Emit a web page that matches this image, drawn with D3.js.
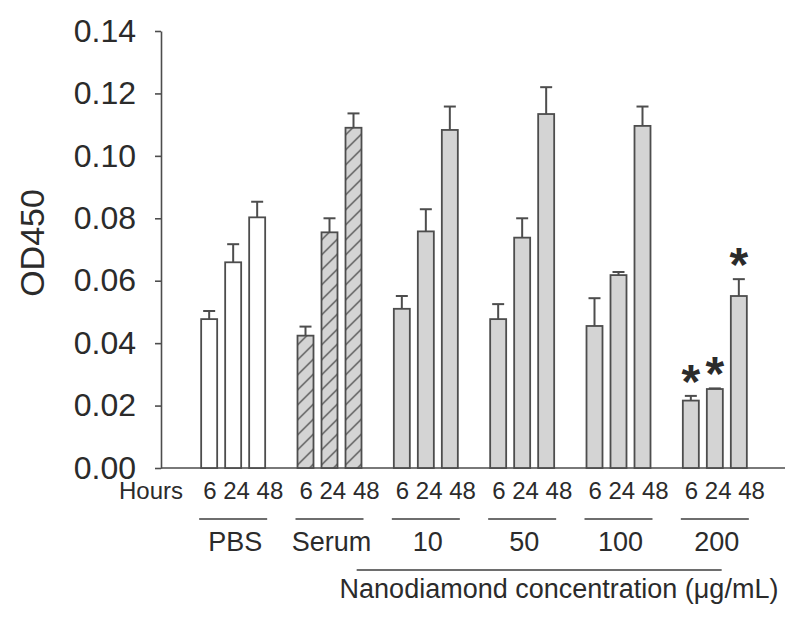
<!DOCTYPE html>
<html>
<head>
<meta charset="utf-8">
<script src="https://cdn.jsdelivr.net/npm/d3@7"></script>
<style>
  body { margin: 0; background: #fff; }
  svg text { font-family: "Liberation Sans", Arial, sans-serif; fill: #2b2b2b; }
</style>
</head>
<body>
<div id="chart"></div>
<script>
(function(d3) {

  // Data.
  var groups = ['PBS', 'Serum', '10', '50', '100', '200'];
  var hours = ['6', '24', '48'];
  var means = [
    [0.0477, 0.0659, 0.0803],
    [0.0424, 0.0755, 0.1090],
    [0.0510, 0.0758, 0.1083],
    [0.0477, 0.0738, 0.1134],
    [0.0455, 0.0618, 0.1096],
    [0.0216, 0.0253, 0.0551]
  ];
  var errs = [
    [0.0026, 0.0058, 0.0050],
    [0.0029, 0.0045, 0.0046],
    [0.0041, 0.0071, 0.0075],
    [0.0048, 0.0062, 0.0086],
    [0.0089, 0.0010, 0.0062],
    [0.0015, 0.0002, 0.0054]
  ];
  var significant = [
    [0, 0, 0], [0, 0, 0], [0, 0, 0], [0, 0, 0], [0, 0, 0], [1, 1, 1]
  ];
  var yTicks = [0, 0.02, 0.04, 0.06, 0.08, 0.10, 0.12, 0.14];
  var nanoGroups = ['10', '50', '100', '200'];

  var width = 800, height = 618;
  var ink = '#4d4d4d';

  var svg = d3.select('#chart').append('svg')
    .attr('width', width)
    .attr('height', height);

  // Hatch for the serum bars.
  svg.append('defs').append('pattern')
    .attr('id', 'hatch')
    .attr('patternUnits', 'userSpaceOnUse')
    .attr('width', 15)
    .attr('height', 15)
    .call(function(p) {
      p.append('rect').attr('width', 15).attr('height', 15).attr('fill', '#d4d4d4');
      p.append('path')
        .attr('d', 'M0,15 L15,0 M-4,4 L4,-4 M11,19 L19,11')
        .attr('stroke', '#505050')
        .attr('stroke-width', 1.3);
    });

  var y = d3.scaleLinear().domain([0, 0.14]).range([468, 31]);

  var x0 = d3.scaleBand().domain(groups).range([185, 763]);
  var x1 = d3.scaleBand().domain(hours)
    .range([x0.bandwidth() / 2 - 36, x0.bandwidth() / 2 + 36])
    .paddingInner(1 / 3)
    .paddingOuter(1 / 6);

  var axisX = 161;

  // Y axis.
  var yAxis = svg.append('g')
    .attr('transform', 'translate(' + axisX + ',0)')
    .call(d3.axisLeft(y).tickValues(yTicks).tickFormat(d3.format('.2f')).tickSize(6).tickPadding(19).tickSizeOuter(0));
  yAxis.select('.domain').attr('stroke', ink).attr('stroke-width', 1.6);
  yAxis.selectAll('.tick line').attr('stroke', ink).attr('stroke-width', 1.6);
  yAxis.selectAll('.tick text')
    .attr('font-size', 32)
    .style('font-family', '"Liberation Sans", Arial, sans-serif')
    .attr('fill', '#2b2b2b');

  svg.append('text')
    .attr('transform', 'translate(44,243) rotate(-90)')
    .attr('text-anchor', 'middle')
    .attr('font-size', 34)
    .text('OD450');

  // X baseline.
  svg.append('line')
    .attr('x1', axisX).attr('x2', 785)
    .attr('y1', y(0)).attr('y2', y(0))
    .attr('stroke', ink).attr('stroke-width', 1.6);

  // Bars.
  var rows = [];
  groups.forEach(function(g, gi) {
    hours.forEach(function(h, hi) {
      rows.push({ group: g, gi: gi, hour: h, value: means[gi][hi], err: errs[gi][hi], sig: significant[gi][hi] });
    });
  });

  var fillFor = function(d) {
    if (d.group === 'PBS') return '#ffffff';
    if (d.group === 'Serum') return 'url(#hatch)';
    return '#d4d4d4';
  };

  var bar = svg.append('g').selectAll('g')
    .data(rows)
    .join('g')
    .attr('transform', function(d) { return 'translate(' + (x0(d.group) + x1(d.hour)) + ',0)'; });

  var bw = x1.bandwidth();

  // Error bars (drawn first so the bar outline sits on top).
  bar.append('line')
    .attr('x1', bw / 2).attr('x2', bw / 2)
    .attr('y1', function(d) { return y(d.value); })
    .attr('y2', function(d) { return y(d.value + d.err); })
    .attr('stroke', ink).attr('stroke-width', 2);
  bar.append('line')
    .attr('x1', bw / 2 - 6).attr('x2', bw / 2 + 6)
    .attr('y1', function(d) { return y(d.value + d.err); })
    .attr('y2', function(d) { return y(d.value + d.err); })
    .attr('stroke', ink).attr('stroke-width', 2);

  bar.append('rect')
    .attr('x', 0)
    .attr('width', bw)
    .attr('y', function(d) { return y(d.value); })
    .attr('height', function(d) { return y(0) - y(d.value); })
    .attr('fill', fillFor)
    .attr('stroke', ink)
    .attr('stroke-width', 1.8);

  bar.filter(function(d) { return d.sig; })
    .append('text')
    .attr('x', bw / 2)
    .attr('y', function(d) { return y(d.value + d.err) + 2; })
    .attr('text-anchor', 'middle')
    .attr('font-size', 48)
    .attr('font-weight', 'bold')
    .attr('fill', '#1a1a1a')
    .text('*');

  // Hour labels under the axis.
  svg.append('text')
    .attr('x', 183).attr('y', 499)
    .attr('text-anchor', 'end')
    .attr('font-size', 24)
    .text('Hours');

  svg.append('g').selectAll('text')
    .data(groups)
    .join('text')
    .attr('x', function(g) { return x0(g) + x1(hours[0]) + 2; })
    .attr('y', 499)
    .attr('font-size', 24)
    .attr('xml:space', 'preserve')
    .text(hours.join(' '));

  // Group brackets and names.
  var grp = svg.append('g').selectAll('g')
    .data(groups)
    .join('g');
  grp.append('line')
    .attr('x1', function(g) { return x0(g) + x1(hours[0]) - 2; })
    .attr('x2', function(g) { return x0(g) + x1(hours[hours.length - 1]) + bw + 2; })
    .attr('y1', 519).attr('y2', 519)
    .attr('stroke', '#6e6e6e').attr('stroke-width', 2);
  grp.append('text')
    .attr('x', function(g) { return x0(g) + x0.bandwidth() / 2 + 2; })
    .attr('y', 551)
    .attr('text-anchor', 'middle')
    .attr('font-size', 27)
    .text(function(g) { return g; });

  // Nanodiamond span.
  svg.append('line')
    .attr('x1', x0(nanoGroups[0]) - 21)
    .attr('x2', x0(nanoGroups[nanoGroups.length - 1]) + 55)
    .attr('y1', 570).attr('y2', 570)
    .attr('stroke', '#6e6e6e').attr('stroke-width', 2);

  svg.append('text')
    .attr('x', 559).attr('y', 598)
    .attr('text-anchor', 'middle')
    .attr('font-size', 27)
    .text('Nanodiamond concentration (\u03bcg/mL)');

})(d3);
</script>
</body>
</html>
